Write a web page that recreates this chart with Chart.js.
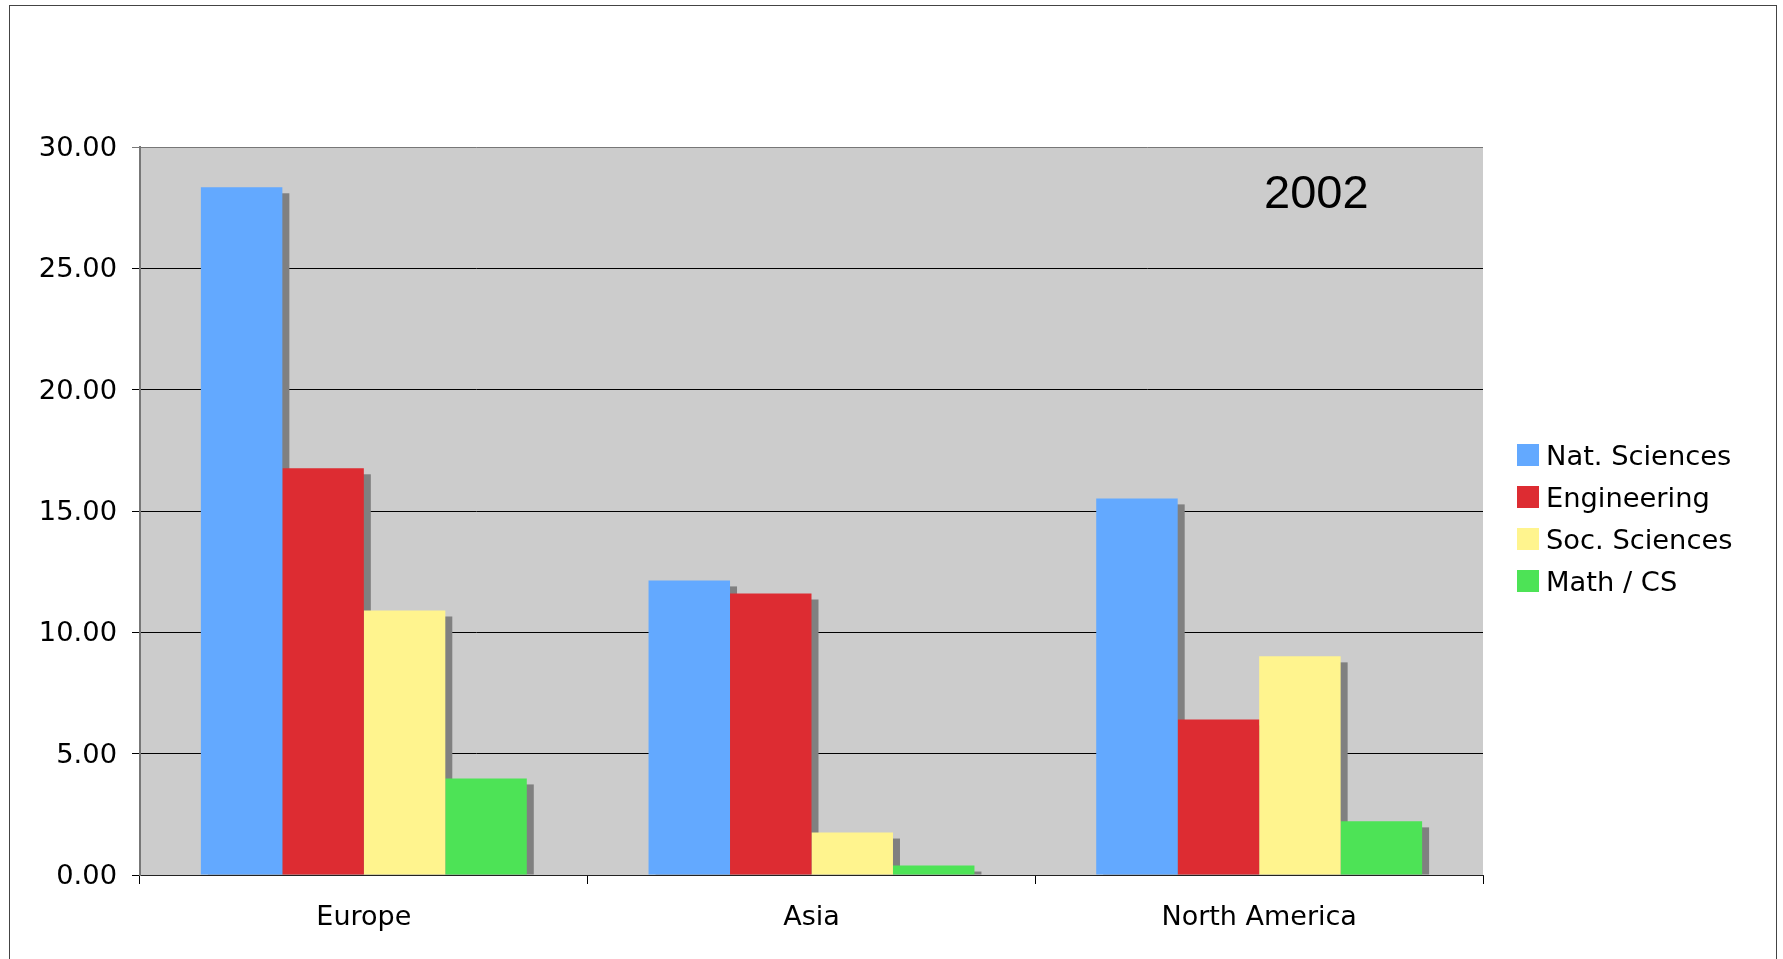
<!DOCTYPE html>
<html>
<head>
<meta charset="utf-8">
<style>
  html, body { margin: 0; padding: 0; background: #ffffff; }
  #wrap { width: 1783px; height: 959px; }
</style>
<script src="https://cdn.jsdelivr.net/npm/chart.js@4/dist/chart.umd.min.js"></script>
</head>
<body>
<div id="wrap"><canvas id="c" width="1783" height="959"></canvas></div>
<script>
// ---- data ----
const categories = ['Europe', 'Asia', 'North America'];
const seriesNames = ['Nat. Sciences', 'Engineering', 'Soc. Sciences', 'Math / CS'];
const natSciences = [28.34, 12.14, 15.52];
const engineering = [16.76, 11.60, 6.41];
const socSciences = [10.90, 1.75, 9.01];
const mathCS = [3.98, 0.39, 2.21];
const yMin = 0, yMax = 30, yStep = 5;
const yearLabel = '2002';

// ---- styles ----
const seriesColors = ['#63A9FF', '#DD2C32', '#FFF48E', '#4DE356'];
const FONT = '"DejaVu Sans", Verdana, sans-serif';

const bgPlugin = {
  id: 'bgPlugin',
  beforeDraw(chart) {
    const ctx = chart.ctx, a = chart.chartArea;
    ctx.save();
    ctx.fillStyle = '#ffffff';
    ctx.fillRect(0, 0, chart.width, chart.height);
    ctx.strokeStyle = '#444444';
    ctx.lineWidth = 1;
    ctx.strokeRect(9.5, 5.5, 1767, 980);
    ctx.fillStyle = '#CCCCCC';
    ctx.fillRect(a.left, a.top, a.right - a.left, a.bottom - a.top);
    ctx.restore();
  }
};

const shadowPlugin = {
  id: 'shadowPlugin',
  beforeDatasetsDraw(chart) {
    const ctx = chart.ctx, a = chart.chartArea;
    ctx.save();
    ctx.beginPath();
    ctx.rect(a.left, a.top, a.right - a.left + 20, a.bottom - a.top);
    ctx.clip();
    ctx.fillStyle = '#808080';
    chart.data.datasets.forEach((ds, i) => {
      const meta = chart.getDatasetMeta(i);
      meta.data.forEach(el => {
        const p = el.getProps(['x', 'y', 'base', 'width'], true);
        const top = p.y + 6;
        if (p.base > top) {
          ctx.fillRect(p.x - p.width / 2 + 7, top, p.width, p.base - top);
        }
      });
    });
    ctx.restore();
  }
};

const legendAndYearPlugin = {
  id: 'legendAndYear',
  afterDraw(chart) {
    const ctx = chart.ctx;
    ctx.save();
    chart.data.datasets.forEach((ds, i) => {
      const y0 = 444 + i * 42;
      ctx.fillStyle = ds.backgroundColor;
      ctx.fillRect(1517, y0, 22, 22);
      ctx.fillStyle = '#000000';
      ctx.font = '27.3px ' + FONT;
      ctx.textAlign = 'left';
      ctx.textBaseline = 'middle';
      ctx.fillText(ds.label, 1546, y0 + 14);
    });
    ctx.fillStyle = '#000000';
    ctx.font = '47px "Liberation Sans", Arial, sans-serif';
    ctx.textAlign = 'left';
    ctx.textBaseline = 'alphabetic';
    ctx.fillText(yearLabel, 1264, 208);
    ctx.restore();
  }
};

const seriesData = [natSciences, engineering, socSciences, mathCS];

new Chart(document.getElementById('c'), {
  type: 'bar',
  data: {
    labels: categories,
    datasets: seriesNames.map((name, i) => ({
      label: name,
      data: seriesData[i],
      backgroundColor: seriesColors[i],
      borderWidth: 0,
      categoryPercentage: 0.728,
      barPercentage: 1.0
    }))
  },
  options: {
    responsive: false,
    animation: false,
    devicePixelRatio: 1,
    layout: { padding: { left: 0, top: 147, right: 300, bottom: 0 } },
    plugins: {
      legend: { display: false },
      tooltip: { enabled: false }
    },
    scales: {
      x: {
        afterFit(scale) { scale.height = 84; },
        grid: {
          offset: true,
          drawOnChartArea: false,
          drawTicks: true,
          tickLength: 9,
          color: '#000000'
        },
        border: { display: true, color: '#222222', width: 1 },
        ticks: {
          color: '#000000',
          font: { family: FONT, size: 27 },
          padding: 18,
          maxRotation: 0
        }
      },
      y: {
        min: yMin,
        max: yMax,
        afterFit(scale) { scale.width = 140; },
        grid: {
          color: (c) => (c.tick && c.tick.value === yMax) ? '#777777' : '#000000',
          lineWidth: 1,
          drawTicks: true,
          tickLength: 8
        },
        border: { display: true, color: '#777777', width: 2 },
        ticks: {
          stepSize: yStep,
          color: '#000000',
          font: { family: FONT, size: 27.3 },
          padding: 15,
          labelOffset: 2,
          callback: (v) => Number(v).toFixed(2)
        }
      }
    }
  },
  plugins: [bgPlugin, shadowPlugin, legendAndYearPlugin]
});
</script>
</body>
</html>
